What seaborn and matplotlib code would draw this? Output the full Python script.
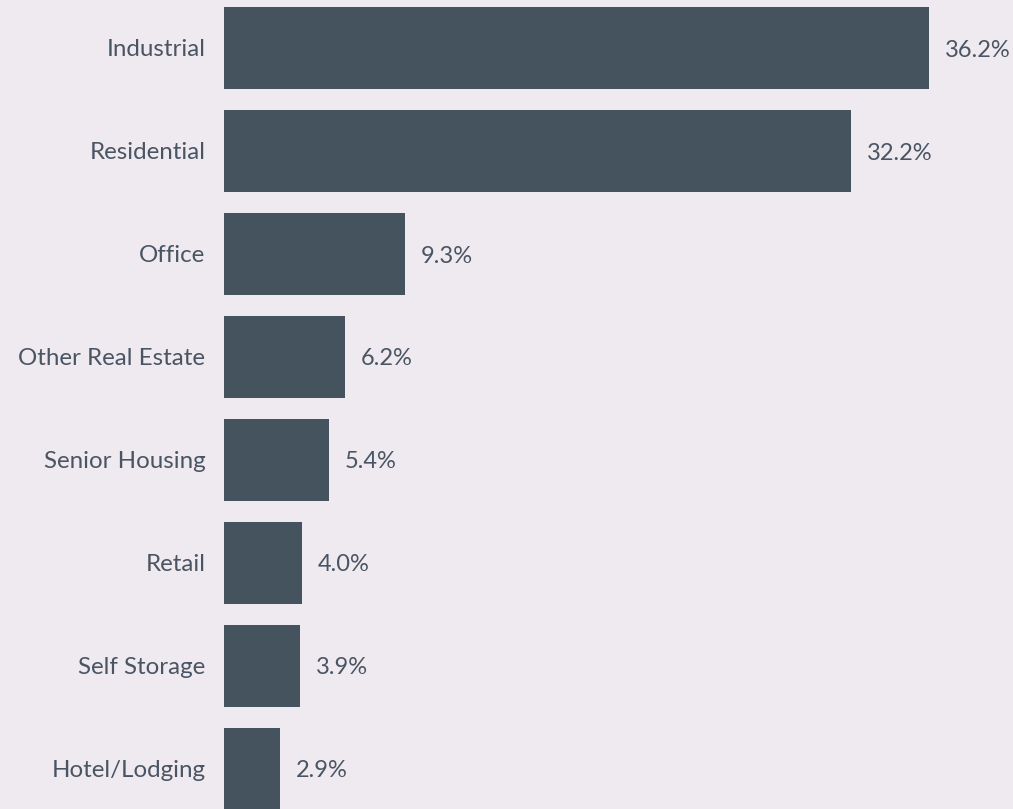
import matplotlib
matplotlib.use("Agg")
import matplotlib.pyplot as plt
import seaborn as sns
import pandas as pd

# ── Data ────────────────────────────────────────────────
categories = ["Industrial", "Residential", "Office", "Other Real Estate",
              "Senior Housing", "Retail", "Self Storage", "Hotel/Lodging"]
shares = [36.2, 32.2, 9.3, 6.2, 5.4, 4.0, 3.9, 2.9]
# ────────────────────────────────────────────────────────

BG = "#EFEAF0"
BAR = "#45535F"
TXT = "#4A5563"

sns.set_theme(style="white")
plt.rcParams["font.family"] = ["Lato", "DejaVu Sans"]

df = pd.DataFrame({"category": categories, "share": shares})

fig = plt.figure(figsize=(10.13, 8.09), dpi=100, facecolor=BG)
ax = fig.add_axes([224 / 1013, 0, 1 - 224 / 1013, 1])
ax.set_facecolor(BG)

sns.barplot(data=df, x="share", y="category", color=BAR, width=0.79,
            saturation=1, linewidth=0, ax=ax, orient="h")

for i, v in enumerate(shares):
    ax.text(v + 0.8, i + 0.02, f"{v:.1f}%", va="center", ha="left",
            fontsize=17, color=TXT)

ax.set_xlim(0, 40.5)
ax.set_ylim(7.39, -0.466)
ax.set_xlabel("")
ax.set_ylabel("")
ax.set_xticks([])
ax.tick_params(axis="y", length=0, pad=13.5, labelsize=17.4, labelcolor=TXT)
sns.despine(ax=ax, left=True, bottom=True)

fig.savefig("out.png", dpi=100, facecolor=BG)
